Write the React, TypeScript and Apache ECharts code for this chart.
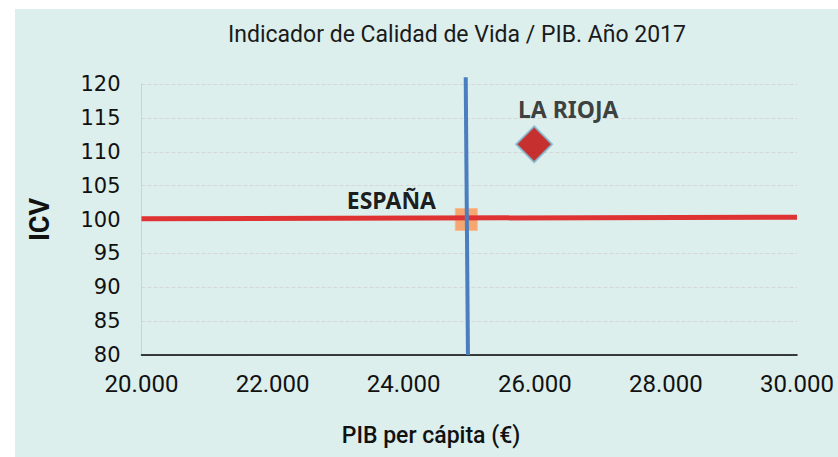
import React, { useEffect, useRef } from "react";
import * as echarts from "echarts";

const titleText = "Indicador de Calidad de Vida / PIB. Año 2017";
const xName = "PIB per cápita (€)";
const yName = "ICV";
const spainLineH: [number, number][] = [[20000, 100.1], [30000, 100.35]];
const spainLineV: [number, number][] = [[24980, 80], [24946, 121]];
const spainPoint: [number, number][] = [[24955, 100]];
const riojaPoint: [number, number][] = [[25990, 111.1]];
const spainLabel = "ESPAÑA";
const riojaLabel = "LA RIOJA";

export default function App() {
  const ref = useRef<HTMLDivElement>(null);
  useEffect(() => {
    if (!ref.current) return;
    const chart = echarts.init(ref.current, undefined, { renderer: "svg" });
    const font = "Roboto";
    chart.setOption({
      animation: false,
      backgroundColor: "#ffffff",
      graphic: [
        {
          type: "rect",
          z: -10,
          silent: true,
          shape: { x: 15, y: 9, width: 823, height: 448 },
          style: { fill: "#DCEFEC" },
        },
        {
          type: "text",
          x: 431,
          y: 435,
          style: {
            text: xName,
            fontFamily: font,
            fontSize: 23,
            fontWeight: 500,
            fill: "#111",
            align: "center",
            verticalAlign: "middle",
          },
        },
      ],
      title: {
        text: titleText,
        left: 452,
        textAlign: "center",
        top: 18,
        textStyle: { fontFamily: font, fontSize: 23, fontWeight: "normal", color: "#1a1a1a" },
      },
      grid: { left: 141.5, right: 41, top: 84, bottom: 102 },
      xAxis: {
        type: "value",
        min: 20000,
        max: 30000,
        interval: 2000,
        axisLine: { show: true, onZero: false, lineStyle: { color: "#000", width: 1.5 } },
        axisTick: { show: false },
        splitLine: { show: false },
        axisLabel: {
          fontFamily: font,
          fontSize: 24,
          color: "#111",
          margin: 17,
          formatter: (v: number) => String(v).replace(/\B(?=(\d{3})+(?!\d))/g, "."),
        },
      },
      yAxis: {
        type: "value",
        min: 80,
        max: 120,
        interval: 5,
        name: yName,
        nameLocation: "middle",
        nameGap: 88,
        nameTextStyle: { fontFamily: font, fontSize: 27, fontWeight: "bold", color: "#111" },
        axisLine: { show: true, lineStyle: { color: "#D0D0D0", width: 1 } },
        axisTick: { show: false },
        splitLine: { show: true, lineStyle: { color: "#D6D6D6", type: "dashed", width: 1 } },
        axisLabel: { fontFamily: "DejaVu Sans", fontSize: 21, color: "#111", margin: 21 },
      },
      series: [
        {
          type: "scatter",
          data: spainPoint,
          symbol: "rect",
          symbolSize: 22,
          z: 1,
          itemStyle: { color: "#F7A26A", opacity: 0.95, borderColor: "#F9B98C", borderWidth: 1 },
          label: {
            show: true,
            formatter: spainLabel,
            position: "inside",
            offset: [-75, -20],
            fontFamily: "Noto Sans",
            fontSize: 23,
            fontWeight: "bold",
            color: "#111",
          },
        },
        {
          type: "line",
          data: spainLineH,
          showSymbol: false,
          symbol: "none",
          z: 2,
          clip: false,
          lineStyle: { color: "#DF3333", width: 5 },
        },
        {
          type: "line",
          data: spainLineV,
          showSymbol: false,
          symbol: "none",
          z: 3,
          clip: false,
          lineStyle: { color: "#4A7EBF", width: 4 },
        },
        {
          type: "scatter",
          data: riojaPoint,
          symbol: "diamond",
          symbolSize: 36,
          z: 4,
          itemStyle: { color: "#C00000", borderColor: "#7DBFD6", borderWidth: 2 },
          label: {
            show: true,
            formatter: riojaLabel,
            position: "inside",
            offset: [34, -35],
            fontFamily: "Noto Sans",
            fontSize: 23,
            fontWeight: "bold",
            color: "#111",
          },
        },
      ],
    });
    return () => chart.dispose();
  }, []);
  return (
    <div
      ref={ref}
      style={{ position: "fixed", left: 0, top: 0, width: 838, height: 457 }}
    />
  );
}
